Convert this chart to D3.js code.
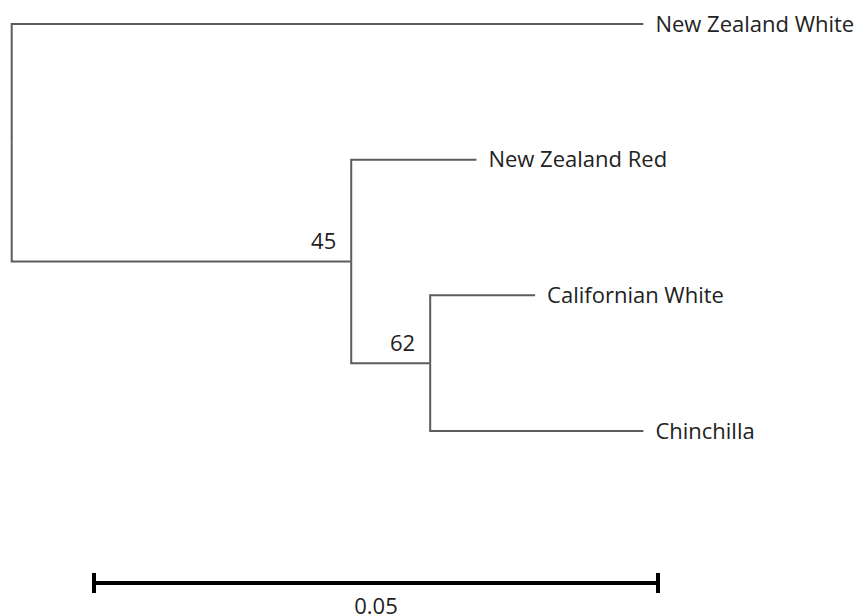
<!DOCTYPE html>
<html>
<head>
<meta charset="utf-8">
<script src="https://cdn.jsdelivr.net/npm/d3@7"></script>
<style>
  body { margin: 0; background: #fff; }
  svg { display: block; }
  .branch { fill: none; stroke: #5c5c5c; stroke-width: 2; }
  .leaf-label, .support, .scale-label { font-family: "Open Sans", sans-serif; font-size: 22px; fill: #222; }
</style>
</head>
<body>
<svg id="tree"></svg>
<script>
// Tree topology (parent of each node) and branch lengths
const nodeIds = ['root', 'New Zealand White', 'n45', 'New Zealand Red', 'n62', 'Californian White', 'Chinchilla'];
const parents = [null, 'root', 'root', 'n45', 'n45', 'n62', 'n62'];
const branchLengths = [0, 0.0560, 0.0301, 0.0111, 0.0070, 0.0093, 0.0189];
const supportValues = {n45: 45, n62: 62};
const scaleBarValue = 0.05;

const width = 867, height = 616;
const margin = {left: 11.7, top: 24};
const pxPerUnit = 11280;

const svg = d3.select('#tree')
    .attr('width', width)
    .attr('height', height);

const table = nodeIds.map((id, i) => ({id: id, parent: parents[i], length: branchLengths[i]}));
const root = d3.stratify()
    .id(d => d.id)
    .parentId(d => d.parent)(table);

// cumulative distance from the root
root.each(d => {
  d.dist = d.parent ? d.parent.dist + d.data.length : 0;
});

const leaves = root.leaves();
const maxDist = d3.max(leaves, d => d.dist);

const xScale = d3.scaleLinear()
    .domain([0, maxDist])
    .range([margin.left, margin.left + maxDist * pxPerUnit]);

const yScale = d3.scalePoint()
    .domain(leaves.map(d => d.id))
    .range([margin.top, 431]);

// y: leaves evenly spaced, inner nodes halfway between their first and last child
root.eachAfter(d => {
  if (!d.children) d.y = yScale(d.id);
  else d.y = (d.children[0].y + d.children[d.children.length - 1].y) / 2;
  d.x = xScale(d.dist);
});

// elbow links
const g = svg.append('g');
g.selectAll('path.branch')
    .data(root.links())
  .join('path')
    .attr('class', 'branch')
    .attr('d', l => `M${l.source.x},${l.source.y}V${l.target.y}H${l.target.x}`);

// leaf labels
g.selectAll('text.leaf-label')
    .data(leaves)
  .join('text')
    .attr('class', 'leaf-label')
    .attr('x', d => d.x + 12)
    .attr('y', d => d.y)
    .attr('dy', '0.35em')
    .text(d => d.id);

// bootstrap support values
g.selectAll('text.support')
    .data(root.descendants().filter(d => supportValues[d.id] !== undefined))
  .join('text')
    .attr('class', 'support')
    .attr('text-anchor', 'end')
    .attr('x', d => d.x - 15)
    .attr('y', d => d.y - 12)
    .text(d => supportValues[d.id]);

// scale bar
const barX0 = 94, barY = 583;
const barLen = xScale(scaleBarValue) - xScale(0);
const bar = svg.append('g').attr('transform', `translate(${barX0},${barY})`);
bar.append('line')
    .attr('x1', 0).attr('x2', barLen)
    .attr('stroke', '#000').attr('stroke-width', 4);
bar.selectAll('line.tick')
    .data([0, barLen])
  .join('line')
    .attr('class', 'tick')
    .attr('x1', d => d).attr('x2', d => d)
    .attr('y1', -10).attr('y2', 10)
    .attr('stroke', '#000').attr('stroke-width', 4);
bar.append('text')
    .attr('class', 'scale-label')
    .attr('x', barLen / 2)
    .attr('y', 31)
    .attr('text-anchor', 'middle')
    .text(scaleBarValue);
</script>
</body>
</html>
